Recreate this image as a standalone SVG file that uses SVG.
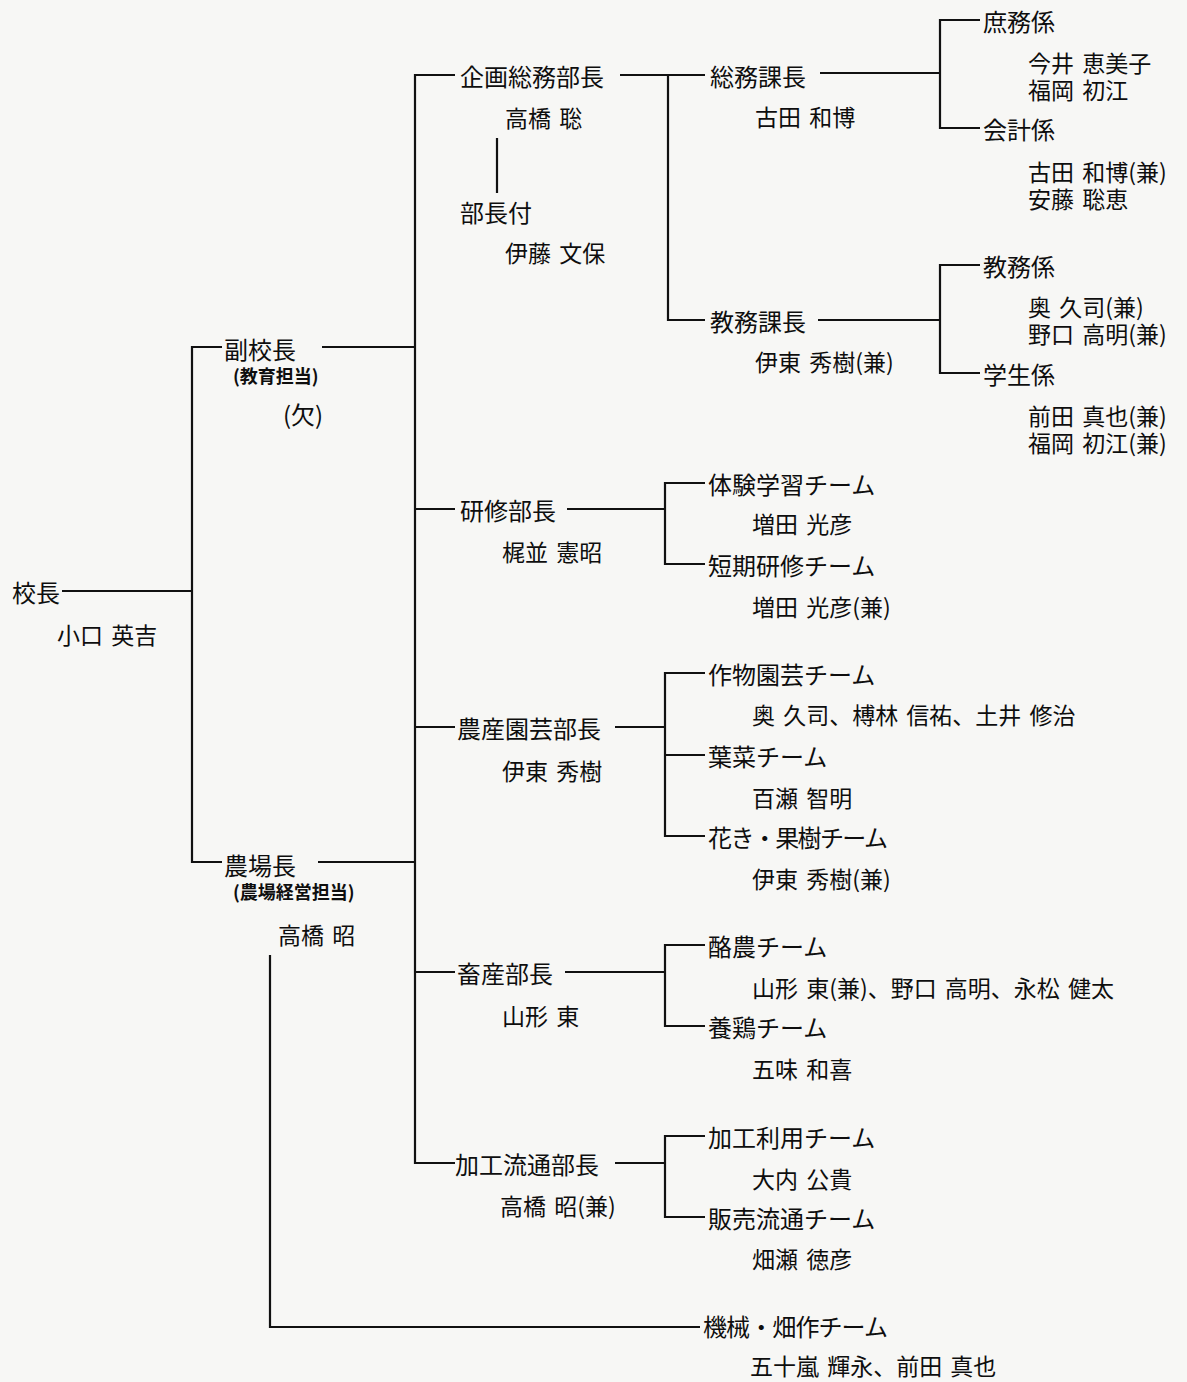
<svg xmlns="http://www.w3.org/2000/svg" width="1187" height="1382" viewBox="0 0 1187 1382">
<style>
text{font-family:"Noto Sans CJK JP","Noto Sans CJK SC",sans-serif;fill:#0e0e0e;dominant-baseline:central;word-spacing:3px}
.t{font-size:24px}
.n{font-size:23px}
.s{font-size:18px;font-weight:bold}
.c line,.c path{stroke:#111;stroke-width:2.2;fill:none}
</style>
<rect width="1187" height="1382" fill="#f7f7f5"/>
<g class="c" id="connectors">
<line x1="62" y1="591" x2="192" y2="591"/>
<path d="M222 347H192V862H222"/>
<line x1="322" y1="347" x2="415" y2="347"/>
<line x1="318" y1="862" x2="415" y2="862"/>
<path d="M455 75H415V1163H455"/>
<line x1="415" y1="509" x2="455" y2="509"/>
<line x1="415" y1="727" x2="455" y2="727"/>
<line x1="415" y1="972" x2="455" y2="972"/>
<path d="M270 955V1327H700"/>
<line x1="620" y1="75" x2="705" y2="75"/>
<path d="M668 75V320H705"/>
<line x1="497" y1="138" x2="497" y2="193"/>
<line x1="820" y1="73" x2="940" y2="73"/>
<path d="M980 20H940V128H980"/>
<line x1="818" y1="320" x2="940" y2="320"/>
<path d="M980 265H940V373H980"/>
<line x1="567" y1="509" x2="665" y2="509"/>
<path d="M705 483H665V564H705"/>
<line x1="615" y1="727" x2="665" y2="727"/>
<path d="M705 673H665V836H705"/>
<line x1="665" y1="755" x2="705" y2="755"/>
<line x1="565" y1="972" x2="665" y2="972"/>
<path d="M705 945H665V1026H705"/>
<line x1="615" y1="1163" x2="665" y2="1163"/>
<path d="M705 1136H665V1217H705"/>
</g>
<g id="kocho"><text class="t" x="12" y="591">校長</text><text class="n" x="57" y="634">小口 英吉</text></g>
<g id="fukukocho"><text class="t" x="224" y="348">副校長</text><text class="s" x="233" y="375">(教育担当)</text><text class="t" x="283" y="413">(欠)</text></g>
<g id="nojocho"><text class="t" x="224" y="864">農場長</text><text class="s" x="233" y="891">(農場経営担当)</text><text class="n" x="278" y="934">高橋 昭</text></g>
<g id="kikaku"><text class="t" x="460" y="75">企画総務部長</text><text class="n" x="505" y="117">高橋 聡</text></g>
<g id="buchozuke"><text class="t" x="460" y="211">部長付</text><text class="n" x="505" y="252">伊藤 文保</text></g>
<g id="somuka"><text class="t" x="710" y="75">総務課長</text><text class="n" x="755" y="116">古田 和博</text></g>
<g id="shomu"><text class="t" x="983" y="20">庶務係</text><text class="n" x="1028" y="62">今井 恵美子<tspan x="1028" dy="27">福岡 初江</tspan></text></g>
<g id="kaikei"><text class="t" x="983" y="128">会計係</text><text class="n" x="1028" y="171">古田 和博(兼)<tspan x="1028" dy="27">安藤 聡恵</tspan></text></g>
<g id="kyomuka"><text class="t" x="710" y="320">教務課長</text><text class="n" x="755" y="361">伊東 秀樹(兼)</text></g>
<g id="kyomu"><text class="t" x="983" y="265">教務係</text><text class="n" x="1028" y="306">奥 久司(兼)<tspan x="1028" dy="27">野口 高明(兼)</tspan></text></g>
<g id="gakusei"><text class="t" x="983" y="373">学生係</text><text class="n" x="1028" y="415">前田 真也(兼)<tspan x="1028" dy="27">福岡 初江(兼)</tspan></text></g>
<g id="kenshu"><text class="t" x="460" y="509">研修部長</text><text class="n" x="502" y="551">梶並 憲昭</text></g>
<g id="taiken"><text class="t" x="708" y="483">体験学習チーム</text><text class="n" x="752" y="523">増田 光彦</text></g>
<g id="tanki"><text class="t" x="708" y="564">短期研修チーム</text><text class="n" x="752" y="606">増田 光彦(兼)</text></g>
<g id="nosan"><text class="t" x="457" y="727">農産園芸部長</text><text class="n" x="502" y="770">伊東 秀樹</text></g>
<g id="sakumotsu"><text class="t" x="708" y="673">作物園芸チーム</text><text class="n" x="752" y="714">奥 久司、榑林 信祐、土井 修治</text></g>
<g id="yousai"><text class="t" x="708" y="755">葉菜チーム</text><text class="n" x="752" y="797">百瀬 智明</text></g>
<g id="kaki"><text class="t" x="708" y="836" textLength="180" lengthAdjust="spacing">花き・果樹チーム</text><text class="n" x="752" y="878">伊東 秀樹(兼)</text></g>
<g id="chikusan"><text class="t" x="457" y="972">畜産部長</text><text class="n" x="502" y="1015">山形 東</text></g>
<g id="rakuno"><text class="t" x="708" y="945">酪農チーム</text><text class="n" x="752" y="987">山形 東(兼)、野口 高明、永松 健太</text></g>
<g id="youkei"><text class="t" x="708" y="1026">養鶏チーム</text><text class="n" x="752" y="1068">五味 和喜</text></g>
<g id="kako"><text class="t" x="455" y="1163">加工流通部長</text><text class="n" x="500" y="1205">高橋 昭(兼)</text></g>
<g id="kakoriyo"><text class="t" x="708" y="1136">加工利用チーム</text><text class="n" x="752" y="1178">大内 公貴</text></g>
<g id="hanbai"><text class="t" x="708" y="1217">販売流通チーム</text><text class="n" x="752" y="1258">畑瀬 徳彦</text></g>
<g id="kikai"><text class="t" x="703" y="1325" textLength="185" lengthAdjust="spacing">機械・畑作チーム</text><text class="n" x="750" y="1365">五十嵐 輝永、前田 真也</text></g>
</svg>
